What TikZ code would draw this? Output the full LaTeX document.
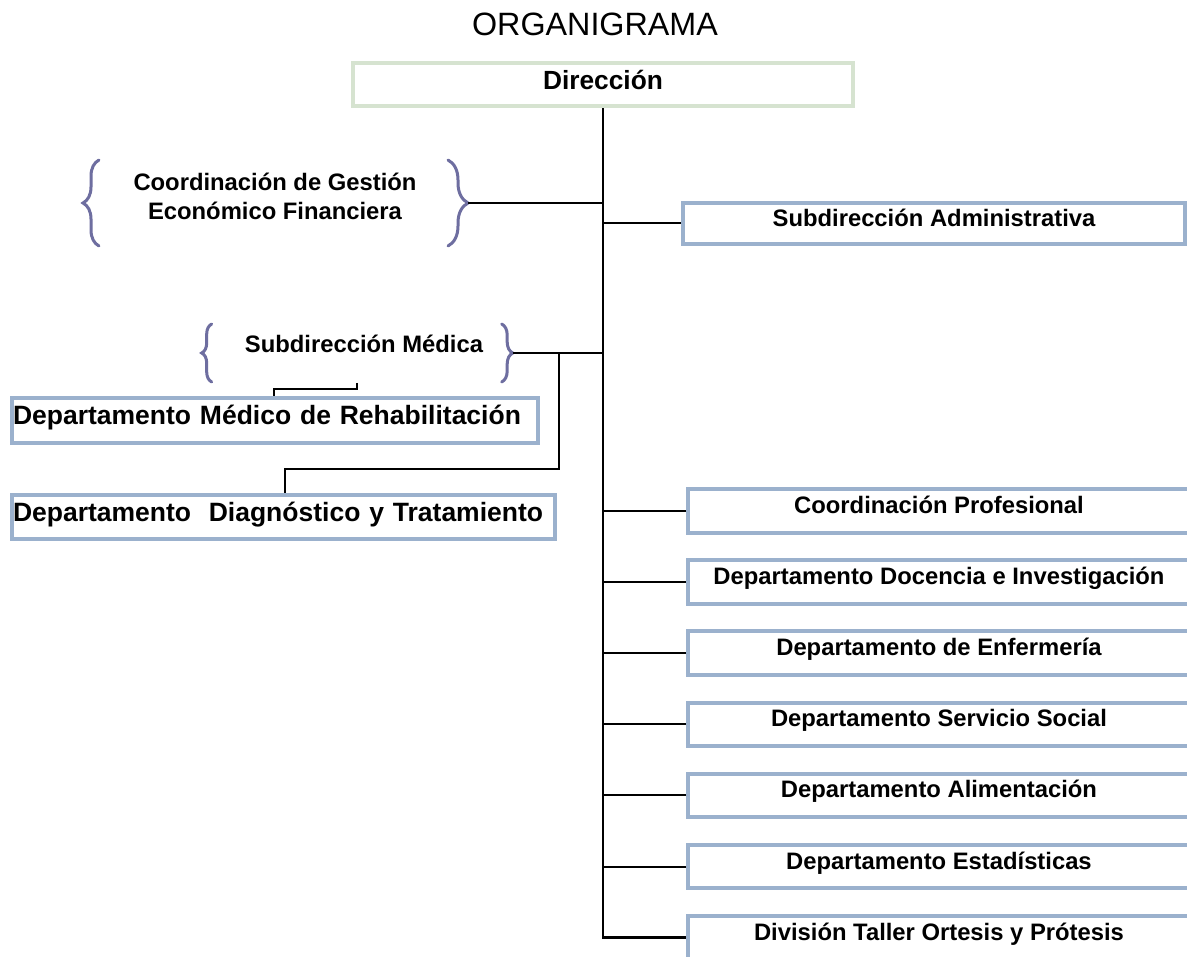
\documentclass[tikz,border=0pt]{standalone}
\usepackage{fontspec}
\setmainfont{Liberation Sans}
\usetikzlibrary{positioning,calc,decorations.pathreplacing}

\definecolor{boxblue}{HTML}{9BB1CD}
\definecolor{boxgreen}{HTML}{D6E3D0}
\definecolor{bracecol}{HTML}{6E6EA0}

\tikzset{
    unitbox/.style={draw=boxblue, line width=4pt, fill=white, inner sep=1pt,
        minimum width=502pt, minimum height=43.5pt,
        font=\bfseries\fontsize{23.8}{28}\selectfont, text height=17pt, text depth=12pt},
    deptbox/.style={unitbox, font=\bfseries\fontsize{26.5}{30}\selectfont,
        text height=18pt, text depth=9pt, align=left},
    lbl/.style={font=\bfseries\fontsize{23.8}{29}\selectfont, align=center},
    link/.style={line width=2pt},
    trunk/.style={line width=2.5pt},
    curly/.style={draw=bracecol, line width=3pt, line cap=round, decorate},
}

\begin{document}
\begin{tikzpicture}[x=1pt,y=-1pt]

    \useasboundingbox (0,0) rectangle (1187,957);
    \clip (0,0) rectangle (1187,957);
    \fill[white] (0,0) rectangle (1187,957);

    \node (titulo) at (595,24.5) {\fontsize{32.3}{36}\selectfont ORGANIGRAMA};

    \node[unitbox, draw=boxgreen, minimum width=500pt, font=\bfseries\fontsize{26.3}{30}\selectfont,
        text height=18pt, text depth=8pt] (direccion) at (603,84.5) {Dirección};

    % right column
    \node[unitbox, minimum height=41pt, text depth=10pt] (subAdmin) at (934,223.2) {Subdirección Administrativa};
    \node[unitbox] (coordProf) at (939,511) {Coordinación Profesional};
    \node[unitbox, below=23.6pt of coordProf] (docencia) {Departamento Docencia e Investigación};
    \node[unitbox, below=23.6pt of docencia] (enfermeria) {Departamento de Enfermería};
    \node[unitbox, below=23.6pt of enfermeria] (servicio) {Departamento Servicio Social};
    \node[unitbox, below=23.6pt of servicio] (alimentacion) {Departamento Alimentación};
    \node[unitbox, below=23.6pt of alimentacion] (estadisticas) {Departamento Estadísticas};
    \node[unitbox, below=23.6pt of estadisticas] (taller) {División Taller Ortesis y Prótesis};

    % left column
    \node[deptbox, minimum width=526pt, minimum height=45pt, text width=524pt] (rehab) at (275,420.5) {Departamento Médico de Rehabilitación};
    \node[deptbox, minimum width=543pt, minimum height=44pt, text width=541pt] (diagnostico) at (283.5,517) {Departamento\ \ Diagnóstico y Tratamiento};

    % braces
    \node[lbl] (coordGestion) at (275,196) {Coordinación de Gestión\\Económico Financiera};
    \draw[curly, decoration={brace, amplitude=16pt}] (99,246) -- (99,160);
    \draw[curly, decoration={brace, amplitude=20pt}] (448,160) -- (448,246);

    \node[lbl] (subMedica) at (364,344) {Subdirección Médica};
    \draw[curly, decoration={brace, amplitude=10pt}] (211.7,382) -- (211.7,324);
    \draw[curly, decoration={brace, amplitude=11pt}] (501.7,324) -- (501.7,382);

    \coordinate (gestionTip) at (468,203);
    \coordinate (medicaTip) at (512.7,353);
    \coordinate (medicaJoin) at (559,353);
    \coordinate (medicaLow) at (356.7,383);
    \coordinate (diagIn) at ([xshift=275pt]diagnostico.north west);
    \coordinate (rehabIn) at ([xshift=264pt]rehab.north west);

    % connectors
    \draw[trunk] (direccion.south) |- (taller.west);
    \foreach \nn in {subAdmin,coordProf,docencia,enfermeria,servicio,alimentacion,estadisticas}{
        \draw[link] (\nn.west) -- (\nn.west -| direccion.south);
    }
    \draw[link] (gestionTip) -- (gestionTip -| direccion.south);
    \draw[link] (medicaTip) -- (medicaTip -| direccion.south);
    \draw[link] (medicaJoin) |- ([yshift=24pt]diagIn) -- (diagIn);
    \draw[link] (medicaLow) |- ([yshift=7pt]rehabIn) -- (rehabIn);

\end{tikzpicture}
\end{document}
